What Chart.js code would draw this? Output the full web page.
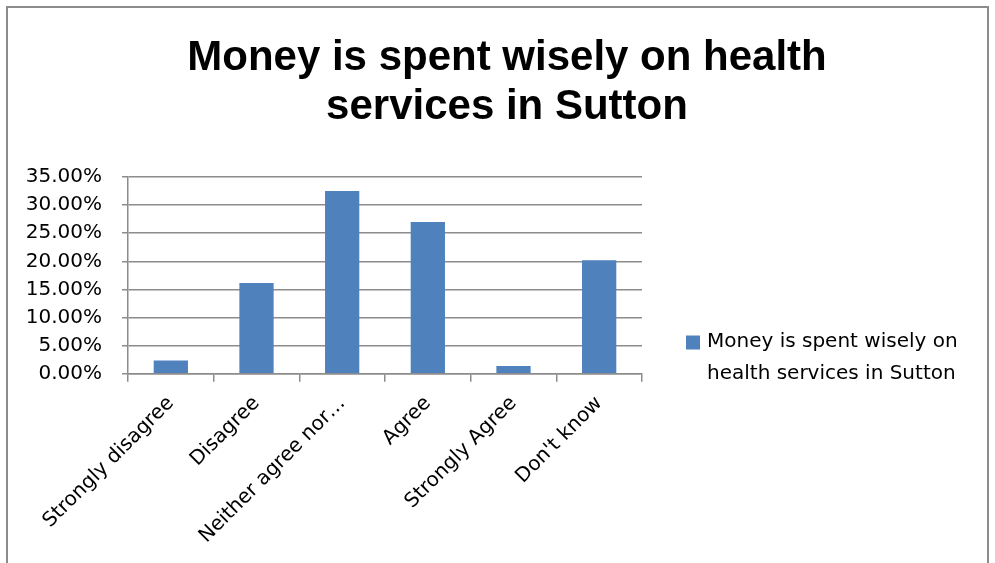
<!DOCTYPE html>
<html>
<head>
<meta charset="utf-8">
<script src="https://cdn.jsdelivr.net/npm/chart.js@4.4.0/dist/chart.umd.min.js"></script>
<style>
  body { margin: 0; background: #fff; }
  #wrap { width: 995px; height: 563px; position: relative; }
</style>
</head>
<body>
<div id="wrap"><canvas id="chart"></canvas></div>
<script>
const categories = ['Strongly disagree', 'Disagree', 'Neither agree nor\u2026', 'Agree', 'Strongly Agree', "Don't know"];
const values = [0.0235, 0.1615, 0.325, 0.270, 0.0135, 0.202];
const seriesName = 'Money is spent wisely on health services in Sutton';
const legendLines = ['Money is spent wisely on', 'health services in Sutton'];
const titleLines = ['Money is spent wisely on health', 'services in Sutton'];

const FONT = 'DejaVu Sans';
const GRID = '#8c8c8c';
const BAR = '#4f81bd';

// outer frame like the spreadsheet chart border
const framePlugin = {
    id: 'frame',
    beforeDraw(chart) {
        const ctx = chart.ctx;
        ctx.save();
        ctx.fillStyle = '#fff';
        ctx.fillRect(0, 0, chart.width, chart.height);
        ctx.strokeStyle = '#8c8c8c';
        ctx.lineWidth = 2;
        ctx.strokeRect(7, 7, 981, 600);
        ctx.restore();
    }
};

// legend drawn by hand: the built-in one gets squeezed to a quarter of the width
const sideLegend = {
    id: 'sideLegend',
    afterDraw(chart) {
        const ctx = chart.ctx;
        const area = chart.chartArea;
        const mid = (chart.titleBlock.bottom + chart.height - 13) / 2 - 6;
        const lh = 32;
        const x = area.right + 44;
        const y1 = mid - lh / 2;
        ctx.save();
        ctx.fillStyle = BAR;
        ctx.fillRect(x, y1 - 6, 14, 14);
        ctx.fillStyle = '#000';
        ctx.font = '20px "' + FONT + '"';
        ctx.textBaseline = 'middle';
        legendLines.forEach((t, i) => {
            ctx.fillText(t, x + 21, y1 + i * lh);
        });
        ctx.restore();
    }
};

new Chart(document.getElementById('chart'), {
    type: 'bar',
    data: {
        labels: categories,
        datasets: [{
            label: seriesName,
            data: values,
            backgroundColor: BAR,
            borderWidth: 0,
            categoryPercentage: 1,
            barPercentage: 0.4
        }]
    },
    options: {
        responsive: true,
        maintainAspectRatio: false,
        animation: false,
        layout: { padding: { left: 27, right: 8, top: 0, bottom: 5 } },
        plugins: {
            title: {
                display: true,
                text: titleLines,
                color: '#000',
                font: { family: 'Liberation Sans', size: 42, weight: 'bold', lineHeight: 1.167 },
                padding: { top: 34, bottom: 45 }
            },
            legend: { display: false },
            tooltip: { enabled: false }
        },
        scales: {
            x: {
                grid: { drawOnChartArea: false, drawTicks: true, tickLength: 8, color: GRID, lineWidth: 1.5 },
                border: { color: GRID, width: 1.5 },
                ticks: {
                    color: '#000',
                    font: { family: FONT, size: 20 },
                    minRotation: 45,
                    maxRotation: 45,
                    padding: 10
                },
                // rotated first label may hang out to the left, as in the original
                afterFit(scale) { scale.paddingLeft = 0; }
            },
            y: {
                min: 0,
                max: 0.35,
                grid: { color: GRID, lineWidth: 1.5, tickLength: 6 },
                border: { color: GRID, width: 1.5 },
                ticks: {
                    stepSize: 0.05,
                    autoSkip: false,
                    color: '#000',
                    font: { family: FONT, size: 20 },
                    padding: 20,
                    callback: v => (v * 100).toFixed(2) + '%'
                },
                afterFit(scale) { scale.width = 101; }
            },
            // empty room on the right for the legend
            legendRoom: {
                position: 'right',
                grid: { display: false },
                border: { display: false },
                ticks: { display: false },
                afterFit(scale) { scale.width = 345; }
            }
        }
    },
    plugins: [framePlugin, sideLegend]
});
</script>
</body>
</html>
